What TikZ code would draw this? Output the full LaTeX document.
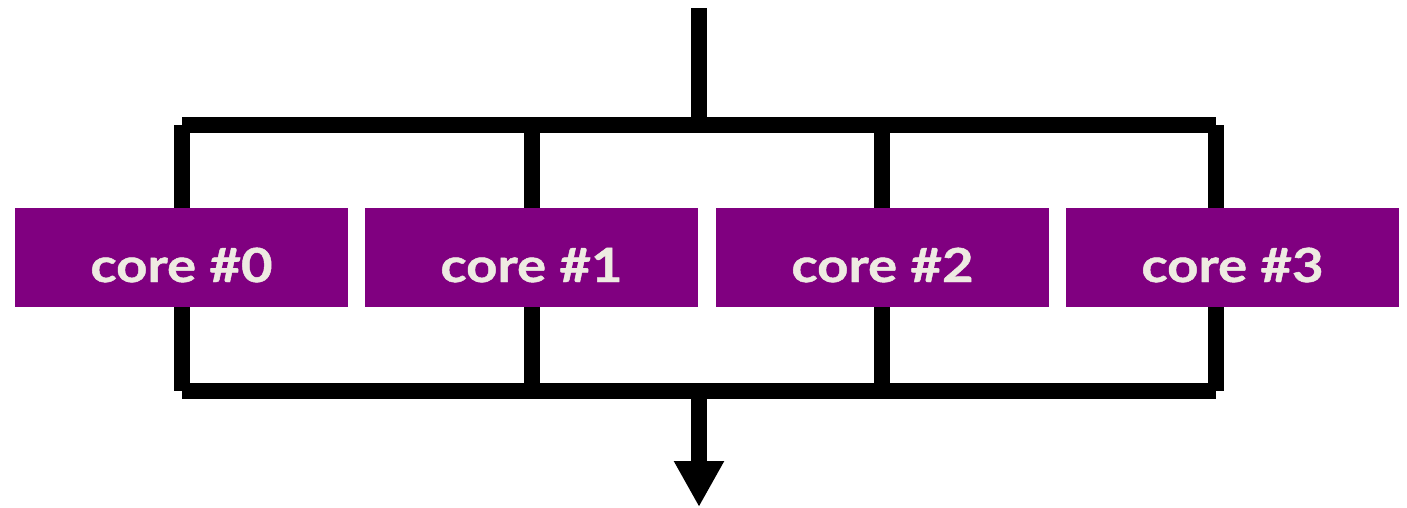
\documentclass[tikz,border=0pt]{standalone}
\usepackage{fontspec}
\setmainfont{Lato}
\newfontfamily\corefont{Lato}[FakeStretch=1.16, FakeBold=1]
\usetikzlibrary{arrows.meta}
\definecolor{corepurple}{HTML}{800080}
\definecolor{corelabel}{HTML}{EEEBE2}
\begin{document}
\begin{tikzpicture}[x=1pt,y=-1pt,
  wire/.style={line width=16pt, line cap=butt},
  corebox/.style={fill=corepurple, minimum width=333pt, minimum height=99pt,
    inner sep=0pt, text height=74pt, text depth=25pt, text=corelabel,
    font=\corefont\bfseries\fontsize{47}{47}\selectfont}]
\useasboundingbox (0,0) rectangle (1407,507);

% junction points of the fork and join bars
\coordinate (in)  at (699,8);
\coordinate (tj)  at (699,125);
\coordinate (bj)  at (699,391);
\coordinate (out) at (699,507);
\foreach \i/\x in {0/182,1/532,2/882,3/1216} {
  \coordinate (t\i) at (\x,125);
  \coordinate (b\i) at (\x,391);
}

% wiring
\draw[wire] (in) -- (tj);
\draw[wire] (t0) -- (t3);
\draw[wire] (b0) -- (b3);
\foreach \i in {0,...,3} \draw[wire] (t\i) -- (b\i);
\draw[wire, -{Triangle[length=46pt, width=47pt]}] (bj) -- (out);

% cores
\node[corebox] (c0) at (181.5,257.5) {core \#0};
\node[corebox] (c1) at (531.5,257.5) {core \#1};
\node[corebox] (c2) at (882.5,257.5) {core \#2};
\node[corebox] (c3) at (1232.5,257.5) {core \#3};
\end{tikzpicture}
\end{document}
